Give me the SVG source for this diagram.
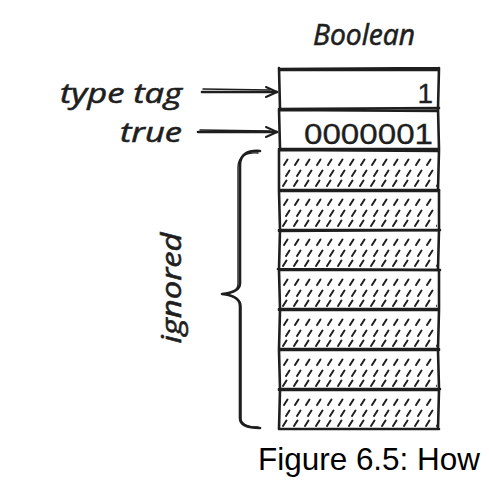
<svg xmlns="http://www.w3.org/2000/svg" width="489" height="494" viewBox="0 0 489 494">
<style>
.hand{font-family:"Open Sans","DejaVu Sans",sans-serif;font-style:italic;fill:#1e1e1e;stroke:#1e1e1e;stroke-width:0.6}
.mono{font-family:"Liberation Sans",Arial,sans-serif;fill:#1e1e1e;stroke:#1e1e1e;stroke-width:0.3}
.ink{fill:none;stroke:#1e1e1e;stroke-width:2.6;stroke-linecap:round;stroke-linejoin:round}
.thin{fill:none;stroke:#1e1e1e;stroke-width:1.4;stroke-linecap:round}
.cap{font-family:"Liberation Sans",Arial,sans-serif;fill:#000}
</style>
<defs>
<pattern id="hatch" patternUnits="userSpaceOnUse" x="281" y="150" width="11" height="40">
<path d="M3,15 L6.5,9.5 M5,26 L8.5,20.5 M2,36 L5.5,30.5" stroke="#1e1e1e" stroke-width="2" stroke-linecap="round" fill="none"/>
</pattern>
<marker id="chev" markerWidth="14" markerHeight="14" refX="12" refY="7" orient="auto" markerUnits="userSpaceOnUse">
<path d="M1,2 L12,7 L1,12" fill="none" stroke="#1e1e1e" stroke-width="2" stroke-linecap="round" stroke-linejoin="round"/>
</marker>
</defs>
<rect width="489" height="494" fill="#fff"/>

<g id="title"><text class="hand" x="364" y="45" font-size="29" text-anchor="middle" textLength="102" lengthAdjust="spacingAndGlyphs">Boolean</text></g>

<g id="label-type-tag"><text class="hand" x="182" y="103" font-size="28" text-anchor="end" textLength="122" lengthAdjust="spacingAndGlyphs">type tag</text></g>
<g id="label-true"><text class="hand" x="182" y="142" font-size="28" text-anchor="end" textLength="62" lengthAdjust="spacingAndGlyphs">true</text></g>

<g id="cell-type-tag">
<path class="ink" d="M279,69 L439,68 M280,70 L438,70 M279,68 L280,109 M439,68 L438,109"/>
<text class="mono" x="433" y="103" font-size="28" text-anchor="end">1</text>
</g>
<g id="cell-value">
<path class="ink" d="M279,109 L439,108 M280,110 L438,111 M279,109 L280,149 M438,108 L439,149 M279,149 L439,149"/>
<text class="mono" x="433" y="144" font-size="29" text-anchor="end" textLength="129" lengthAdjust="spacingAndGlyphs">0000001</text>
</g>

<g id="ignored-cells">
<g id="ignored-1"><rect x="281" y="152" width="156" height="37" fill="url(#hatch)"/><path class="ink" d="M279,150 L439,151 M279,150 L279,190 M439,150 L438,190 M279,190 L439,190"/></g>
<g id="ignored-2"><rect x="281" y="192" width="156" height="37" fill="url(#hatch)"/><path class="ink" d="M279,191 L439,191 M279,191 L280,230 M439,190 L439,230 M279,230 L440,230"/></g>
<g id="ignored-3"><rect x="281" y="232" width="156" height="36" fill="url(#hatch)"/><path class="ink" d="M279,231 L439,230 M280,230 L279,269 M439,230 L438,269 M278,269 L440,270"/></g>
<g id="ignored-4"><rect x="281" y="272" width="156" height="36" fill="url(#hatch)"/><path class="ink" d="M279,270 L439,270 M279,270 L280,309 M439,270 L439,309 M279,309 L439,309"/></g>
<g id="ignored-5"><rect x="281" y="311" width="156" height="37" fill="url(#hatch)"/><path class="ink" d="M279,310 L439,310 M280,310 L279,349 M439,310 L438,349 M279,349 L439,349"/></g>
<g id="ignored-6"><rect x="281" y="351" width="156" height="37" fill="url(#hatch)"/><path class="ink" d="M279,350 L439,350 M279,350 L280,389 M438,350 L439,389 M279,389 L440,389"/></g>
<g id="ignored-7"><rect x="281" y="391" width="156" height="37" fill="url(#hatch)"/><path class="ink" d="M279,390 L439,390 M280,390 L279,429 M439,390 L438,429 M279,429 L439,429"/></g>
</g>

<g id="brace">
<path class="ink" d="M260,151 C247,150 240,155 240,165 L240,283 C240,290 233,293 222,294 C233,295 240,298 240,306 L240,418 C240,425 247,428 260,428"/>
<path class="thin" d="M258,153 C246,152 238,157 238,167 L238,284 C238,290 232,293 224,294 C233,296 242,299 241,307 L241,419 C242,425 248,427 258,427"/>
</g>
<g id="label-ignored"><text class="hand" transform="translate(181,288) rotate(-90)" font-size="28" text-anchor="middle" textLength="111" lengthAdjust="spacingAndGlyphs">ignored</text></g>

<g id="connectors">
<path class="ink" d="M202,92 L277,92" marker-end="url(#chev)"/>
<path class="thin" d="M203,89 L270,90"/>
<path class="ink" d="M198,132 L277,132" marker-end="url(#chev)"/>
<path class="thin" d="M200,130 L270,131"/>
</g>

<g id="caption"><text class="cap" x="258" y="470" font-size="30.5" textLength="222" lengthAdjust="spacingAndGlyphs">Figure 6.5: How</text></g>
</svg>
